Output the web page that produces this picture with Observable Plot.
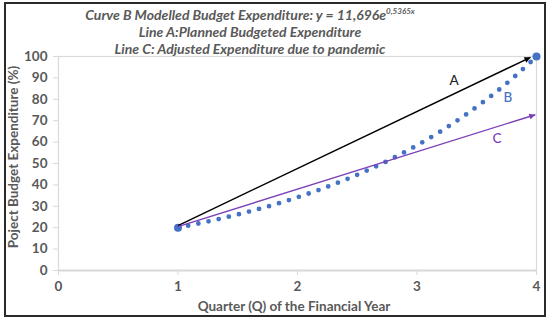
<!DOCTYPE html>
<html><head><meta charset="utf-8">
<script src="https://cdn.jsdelivr.net/npm/d3@7"></script>
<script src="https://cdn.jsdelivr.net/npm/@observablehq/plot@0.6"></script>
<style>
body{margin:0;background:#fff;}
#wrap{position:relative;width:550px;height:322px;overflow:hidden;font-family:Lato,"Open Sans",sans-serif;}
#frame{position:absolute;left:4px;top:2px;width:538px;height:311px;border:2px solid #2a2a2a;pointer-events:none;}
.ttl{position:absolute;left:0;width:500px;text-align:center;font-style:italic;font-weight:bold;font-size:14px;line-height:16px;color:#595959;white-space:nowrap;}
.ttl sup{font-size:8px;vertical-align:6px;line-height:0;}
</style></head>
<body>
<div id="wrap">
<div id="chart"></div>
<div class="ttl" style="top:7px">Curve B Modelled Budget Expenditure: y = 11,696e<sup>0,5365x</sup></div>
<div class="ttl" style="top:24px">Line A:Planned Budgeted Expenditure</div>
<div class="ttl" style="top:41px">Line C: Adjusted Expenditure due to pandemic</div>
<div id="frame"></div>
</div>
<script>
// Curve B (modelled expenditure)
const quarterB = [1.0, 1.2, 1.4, 1.6, 1.8, 2.0, 2.2, 2.4, 2.6, 2.8, 3.0, 3.2, 3.4, 3.6, 3.8, 4.0];
const expenditureB = [20.0, 22.3, 24.8, 27.6, 30.7, 34.2, 38.1, 42.4, 47.2, 52.5, 58.5, 65.1, 72.5, 80.7, 89.8, 100.0];
// Line A (planned) and Line C (adjusted): start/end points
const lineNames = ["A", "C"];
const lineX1 = [1, 1];
const lineY1 = [21, 20.5];
const lineX2 = [3.95, 3.99];
const lineY2 = [99.6, 72.8];
const lineColors = ["#000000", "#7B3FB8"];
// Labels
const labelText = ["A", "B", "C"];
const labelX = [3.31, 3.76, 3.67];
const labelY = [88.7, 80.8, 61.5];
const labelColors = ["#222222", "#4472C4", "#7B3FB8"];
// Ticks
const xTicks = [0, 1, 2, 3, 4];
const yTicks = [0, 10, 20, 30, 40, 50, 60, 70, 80, 90, 100];
// Endpoint markers
const endX = [1, 4];
const endY = [20, 100];

const curve = quarterB.map((q, i) => ({q, v: expenditureB[i]}));
const lines = lineNames.map((n, i) => ({n, x1: lineX1[i], y1: lineY1[i], x2: lineX2[i], y2: lineY2[i], c: lineColors[i]}));
const labels = labelText.map((t, i) => ({t, x: labelX[i], y: labelY[i], c: labelColors[i]}));
const ends = endX.map((x, i) => ({x, y: endY[i]}));

const gray = "#595959";
const plot = Plot.plot({
  width: 550, height: 322,
  marginLeft: 58, marginRight: 14, marginTop: 56, marginBottom: 52,
  style: {fontFamily: "Lato, 'Open Sans', sans-serif", background: "white", overflow: "visible"},
  x: {domain: [0, 4], label: null},
  y: {domain: [0, 100], label: null},
  marks: [
    Plot.frame({stroke: "#d9d9d9", strokeWidth: 1.2}),
    Plot.ruleY([0], {stroke: "#d9d9d9", strokeWidth: 2}),
    Plot.axisX({ticks: xTicks, tickFormat: d => String(d), tickSize: 5, tickPadding: 6, stroke: "#d9d9d9", fill: gray, fontSize: 13.5, fontWeight: "bold", label: null}),
    Plot.axisY({ticks: yTicks, tickFormat: d => String(d), tickSize: 5, tickPadding: 6, stroke: "#d9d9d9", fill: gray, fontSize: 13.5, fontWeight: "bold", label: null}),
    Plot.line(curve, {x: "q", y: "v", curve: "natural", stroke: "#4472C4", strokeWidth: 4.8, strokeLinecap: "round", strokeDasharray: "0,10.4"}),
    Plot.dot(ends, {x: "x", y: "y", r: 4, fill: "#4472C4"}),
    Plot.link(lines, {x1: "x1", y1: "y1", x2: "x2", y2: "y2", stroke: "c", strokeWidth: 1.4, className: "arrowline"}),
    Plot.text(labels, {x: "x", y: "y", text: "t", fill: "c", fontSize: 13.5, fontWeight: 500})
  ]
});
document.getElementById("chart").appendChild(plot);

// filled triangular arrow heads
const svg = d3.select(plot);
const defs = svg.append("defs");
lineColors.forEach((c, i) => {
  defs.append("marker").attr("id", "ah" + i).attr("viewBox", "0 0 10 10")
    .attr("refX", 10).attr("refY", 5).attr("markerWidth", 7).attr("markerHeight", 6)
    .attr("markerUnits", "userSpaceOnUse").attr("orient", "auto")
    .append("path").attr("d", "M0,0 L10,5 L0,10 Z").attr("fill", c);
});
svg.selectAll(".arrowline path").each(function(d, i) {
  d3.select(this).attr("marker-end", "url(#ah" + i + ")");
});

// axis titles
svg.append("text").attr("x", 294).attr("y", 311).attr("text-anchor", "middle")
  .attr("fill", gray).attr("font-size", 13.5).attr("font-weight", "bold").text("Quarter (Q) of the Financial Year");
svg.append("text").attr("transform", "translate(18,157) rotate(-90)").attr("text-anchor", "middle")
  .attr("fill", gray).attr("font-size", 13.5).attr("font-weight", "bold").text("Poject Budget Expenditure (%)");
</script>
</body></html>
